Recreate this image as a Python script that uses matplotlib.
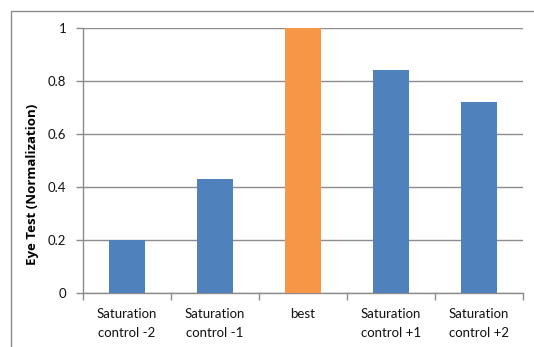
import matplotlib.pyplot as plt
from matplotlib.patches import Rectangle

categories = ['Saturation\ncontrol -2', 'Saturation\ncontrol -1', 'best',
              'Saturation\ncontrol +1', 'Saturation\ncontrol +2']
values = [0.20, 0.43, 1.00, 0.84, 0.72]
colors = ['#4F81BD', '#4F81BD', '#F79646', '#4F81BD', '#4F81BD']
yticks = [0, 0.2, 0.4, 0.6, 0.8, 1]
ytick_labels = ['0', '0.2', '0.4', '0.6', '0.8', '1']

plt.rcParams['font.family'] = ['Lato', 'DejaVu Sans']

W, H = 534, 347
fig = plt.figure(figsize=(W / 100, H / 100), dpi=100)

# outer chart frame, running off the right and bottom edges
fig.patches.append(Rectangle((11 / W, -0.1), 1.2, 1 - 11 / H + 0.1,
                             transform=fig.transFigure, fill=False,
                             edgecolor='#8c8c8c', linewidth=1.0))

ax = fig.add_axes([83 / W, 1 - 293 / H, (523 - 83) / W, (293 - 28) / H])

x = list(range(len(categories)))
ax.bar(x, values, width=0.4, color=colors, zorder=3)

ax.set_xlim(-0.5, len(categories) - 0.5)
ax.set_ylim(0, 1)
ax.set_yticks(yticks)
ax.set_yticklabels(ytick_labels)
ax.yaxis.grid(True, color='#8c8c8c', linewidth=1.0, zorder=0)

ax.set_xticks([i - 0.5 for i in range(len(categories) + 1)])
ax.set_xticklabels([])
ax.set_xticks(x, minor=True)
ax.set_xticklabels(categories, minor=True, fontsize=9.5, color='#111111',
                   linespacing=1.65)
ax.tick_params(axis='x', which='minor', length=0, pad=11)
ax.tick_params(axis='x', which='major', length=5, color='#8c8c8c', width=1)
ax.tick_params(axis='y', length=5, color='#8c8c8c', width=1, pad=7,
               labelsize=9.5, labelcolor='#111111')

for side in ['top', 'right']:
    ax.spines[side].set_visible(False)
for side in ['left', 'bottom']:
    ax.spines[side].set_color('#8c8c8c')
    ax.spines[side].set_linewidth(1.0)

fig.text(33 / W, 1 - 184 / H, 'Eye Test (Normalization)', rotation=90,
         ha='center', va='center', fontsize=9.5, fontweight='bold',
         family=['Open Sans', 'DejaVu Sans'], color='#000000')

fig.savefig('out.png', dpi=100)
